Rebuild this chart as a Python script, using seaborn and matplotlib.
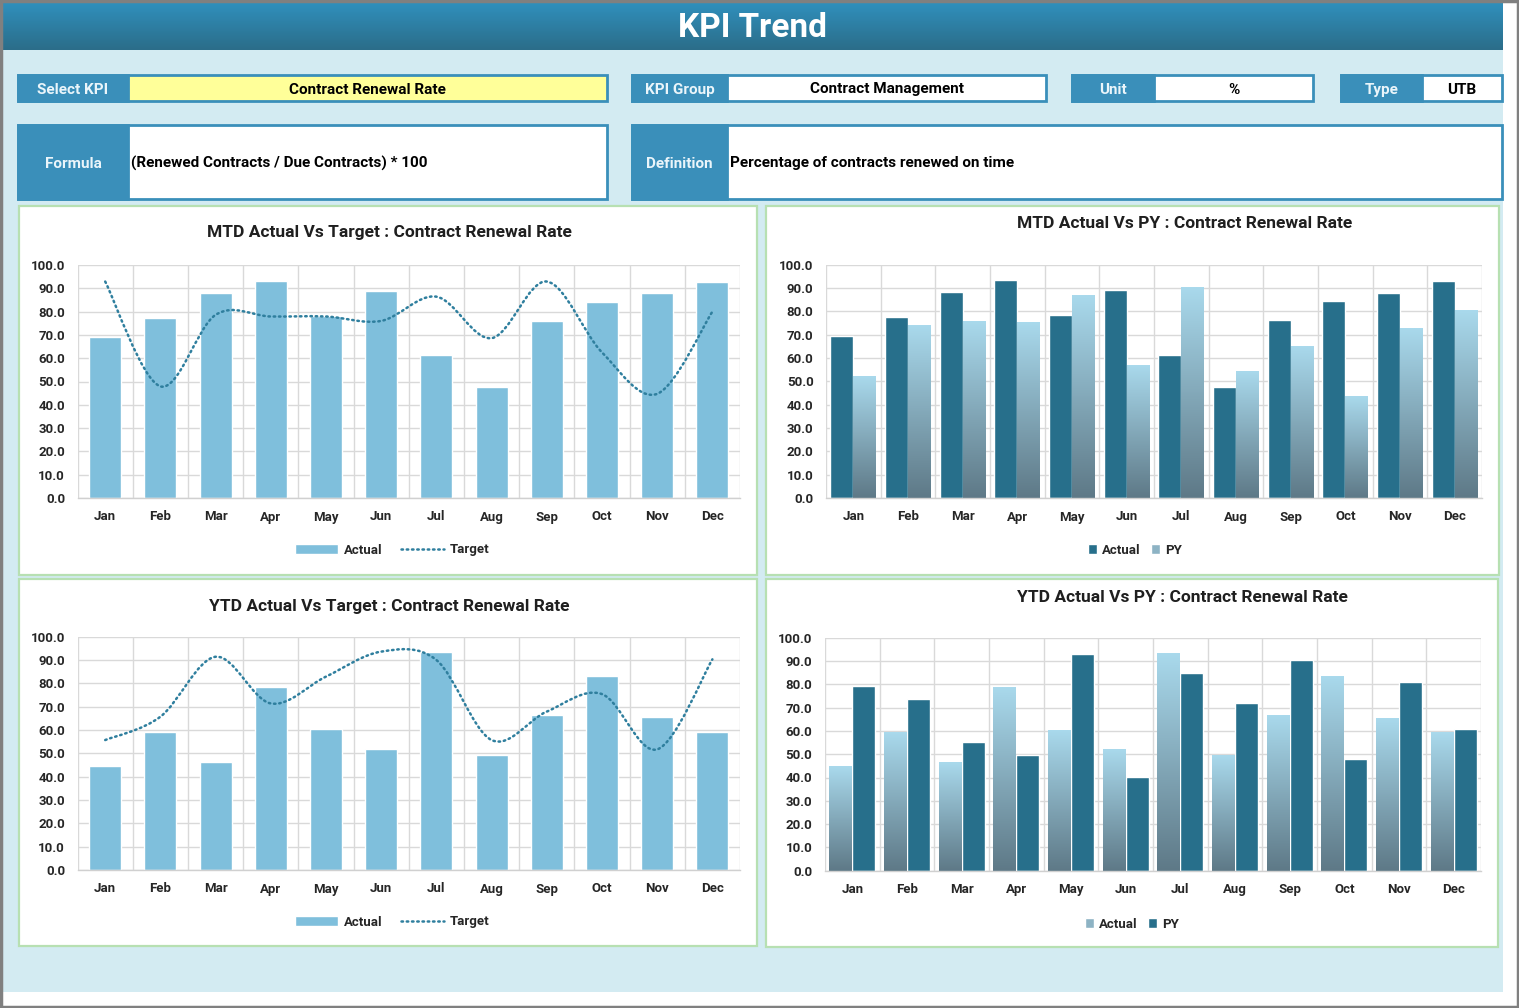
import numpy as np
import pandas as pd
import matplotlib
matplotlib.use("Agg")
import matplotlib.pyplot as plt
import seaborn as sns
from matplotlib.patches import Rectangle, PathPatch, Patch
from matplotlib.lines import Line2D
from matplotlib.path import Path
from matplotlib.colors import LinearSegmentedColormap

# ---------------- data ----------------
months = ['Jan', 'Feb', 'Mar', 'Apr', 'May', 'Jun', 'Jul', 'Aug', 'Sep', 'Oct', 'Nov', 'Dec']
mtd_actual = [69.3, 77.4, 88.1, 93.3, 78.3, 89.0, 61.4, 47.6, 76.1, 84.3, 87.9, 92.9]
mtd_target = [92.9, 47.9, 78.6, 77.9, 77.9, 76.0, 86.4, 68.6, 92.9, 62.5, 44.7, 80.0]
mtd_py = [52.1, 74.0, 75.4, 75.0, 86.9, 56.9, 90.3, 54.1, 64.7, 43.6, 72.7, 80.1]
ytd_actual = [44.7, 59.3, 46.4, 78.6, 60.3, 52.0, 93.3, 49.4, 66.6, 83.3, 65.4, 59.3]
ytd_target = [55.7, 65.7, 91.4, 71.4, 82.9, 93.6, 90.0, 55.7, 67.9, 75.4, 51.7, 90.3]
ytd_py = [79.1, 73.5, 55.4, 49.5, 92.8, 40.1, 84.7, 71.8, 90.3, 47.8, 80.8, 60.7]

kpi_name = "Contract Renewal Rate"
kpi_group = "Contract Management"
kpi_unit = "%"
kpi_type = "UTB"
kpi_formula = "(Renewed Contracts / Due Contracts) * 100"
kpi_definition = "Percentage of contracts renewed on time"

# ---------------- style ----------------
sns.set_theme(style="white")
plt.rcParams['font.family'] = ['Roboto', 'DejaVu Sans']
plt.rcParams['font.weight'] = 'bold'

W, H = 1519, 1008
fig = plt.figure(figsize=(W / 100, H / 100), dpi=100)
fig.patch.set_facecolor('white')

LABEL_BLUE = '#3a8fba'
BG_BLUE = '#d3ebf2'
PANEL_EDGE = '#b7e0b2'
LIGHT_BAR = '#7fbfdc'
DARK_BAR = '#276f8b'
LINE_COL = '#2f7f9e'
GRAD_TOP = '#a9d9ec'
GRAD_BOT = '#5e7987'
TXT = '#1f1f1f'


def frect(x0, y0, x1, y1, **kw):
    r = Rectangle((x0 / W, 1 - y1 / H), (x1 - x0) / W, (y1 - y0) / H,
                  transform=fig.transFigure, **kw)
    fig.patches.append(r)
    return r


def ftext(x, y, s, **kw):
    fig.text(x / W, 1 - y / H, s, **kw)


def fax(x0, y0, x1, y1):
    ax = fig.add_axes([x0 / W, 1 - y1 / H, (x1 - x0) / W, (y1 - y0) / H])
    ax.set_zorder(4)
    return ax


# outer frame and background
frect(2, 50, 1503, 992, facecolor=BG_BLUE, edgecolor='none', zorder=0)
frect(0.5, 0.5, W - 1, H - 1, facecolor='none', edgecolor='#808080', lw=2.5, zorder=10)

# title bar with gradient
tax = fax(2, 2, 1503, 50)
grad = np.linspace(0, 1, 64).reshape(-1, 1)
tcmap = LinearSegmentedColormap.from_list('t', ['#3090bd', '#2b6d89'])
tax.imshow(grad, aspect='auto', cmap=tcmap, extent=[0, 1, 0, 1], origin='upper')
tax.set_axis_off()
ftext(752, 28, "KPI Trend", color='white', fontsize=24, fontweight='bold',
      ha='center', va='center', zorder=6)


# info boxes
def info_box(x0, x1, xl, y0, y1, label, value, vfc='white', align='center', vsize=11):
    frect(x0, y0, x1, y1, facecolor=vfc, edgecolor=LABEL_BLUE, lw=2, zorder=1)
    frect(x0, y0, xl, y1, facecolor=LABEL_BLUE, edgecolor=LABEL_BLUE, lw=2, zorder=2)
    ftext((x0 + xl) / 2, (y0 + y1) / 2 + 2, label, color='#eaf5fa', fontsize=11,
          fontweight='bold', ha='center', va='center', zorder=3)
    if align == 'center':
        ftext((xl + x1) / 2, (y0 + y1) / 2 + 1.5, value, color='black', fontsize=vsize,
              fontweight='bold', ha='center', va='center', zorder=3)
    else:
        ftext(xl + 3, (y0 + y1) / 2 + 1.5, value, color='black', fontsize=vsize,
              fontweight='bold', ha='left', va='center', zorder=3)


info_box(18, 607, 128, 75, 101, "Select KPI", kpi_name, vfc='#ffff99')
info_box(632, 1046, 727, 75, 101, "KPI Group", kpi_group)
info_box(1072, 1313, 1154, 75, 101, "Unit", kpi_unit)
info_box(1341, 1502, 1422, 75, 101, "Type", kpi_type)
info_box(18, 607, 128, 125, 199, "Formula", kpi_formula, align='left')
info_box(632, 1502, 727, 125, 199, "Definition", kpi_definition, align='left')

# chart panels
panels = [(19, 206, 757, 575), (766, 206, 1499, 575), (19, 579, 757, 946), (766, 579, 1498, 947)]
for (x0, y0, x1, y1) in panels:
    frect(x0, y0, x1, y1, facecolor='white', edgecolor=PANEL_EDGE, lw=1.6, zorder=1)


def style_axis(ax):
    ax.set_xlim(-0.5, 11.5)
    ax.set_ylim(0, 100)
    ax.set_yticks(np.arange(0, 101, 10))
    ax.set_yticklabels([f"{v:.1f}" for v in np.arange(0, 101, 10)])
    ax.set_xticks(range(12))
    ax.set_xticklabels(months)
    ax.set_xticks(np.arange(-0.5, 12, 1), minor=True)
    ax.grid(False)
    ax.grid(axis='y', which='major', color='#d9d9d9', lw=1)
    ax.grid(axis='x', which='minor', color='#d9d9d9', lw=1)
    ax.set_axisbelow(True)
    for s in ['top', 'left', 'right']:
        ax.spines[s].set_visible(False)
    ax.spines['bottom'].set_color('#d0d0d0')
    ax.spines['bottom'].set_linewidth(1)
    ax.tick_params(axis='y', which='major', length=0, pad=9, labelsize=9.5, labelcolor='#262626')
    ax.tick_params(axis='x', which='major', length=0, pad=9, labelsize=9.5, labelcolor='#262626')
    ax.tick_params(axis='x', which='minor', length=4, width=1, color='#d9d9d9', direction='out')
    for lab in ax.get_xticklabels() + ax.get_yticklabels():
        lab.set_fontweight('bold')
    ax.set_xlabel('')
    ax.set_ylabel('')
    ax.patch.set_alpha(0)


def smooth_path(xs, ys):
    pts = np.column_stack([xs, ys]).astype(float)
    n = len(pts)
    verts = [pts[0]]
    codes = [Path.MOVETO]
    for i in range(n - 1):
        p0 = pts[i - 1] if i > 0 else pts[i]
        p1 = pts[i]
        p2 = pts[i + 1]
        p3 = pts[i + 2] if i + 2 < n else pts[i + 1]
        c1 = p1 + (p2 - p0) / 6.0
        c2 = p2 - (p3 - p1) / 6.0
        verts += [c1, c2, p2]
        codes += [Path.CURVE4] * 3
    return Path(verts, codes)


def gradient_bars(ax, container):
    cmap = LinearSegmentedColormap.from_list('g', [GRAD_TOP, GRAD_BOT])
    g = np.linspace(0, 1, 128).reshape(-1, 1)
    for bar in container:
        x, w, h = bar.get_x(), bar.get_width(), bar.get_height()
        bar.set_facecolor('none')
        bar.set_edgecolor('none')
        ax.imshow(g, aspect='auto', cmap=cmap, extent=[x, x + w, 0, h],
                  origin='upper', zorder=2, interpolation='bilinear')


def legend(handles, labels, cx, cy, hl, hh, cs):
    lg = fig.legend(handles, labels, loc='center', bbox_to_anchor=(cx / W, 1 - cy / H),
                    ncol=2, frameon=False, prop={'size': 9.5, 'weight': 'bold'},
                    handlelength=hl, handleheight=hh, columnspacing=cs, handletextpad=0.4,
                    labelcolor='#262626')
    lg.set_zorder(6)


DOT = (0, (0.6, 1.5))

# ---- Chart 1: MTD Actual vs Target ----
ax1 = fax(77.6, 265, 740, 498)
df1 = pd.DataFrame({'Month': months, 'Actual': mtd_actual, 'Target': mtd_target})
sns.barplot(data=df1, x='Month', y='Actual', color=LIGHT_BAR, saturation=1, width=0.58, ax=ax1, zorder=2)
ax1.add_patch(PathPatch(smooth_path(range(12), df1['Target']), facecolor='none', edgecolor=LINE_COL,
                        lw=1.8, linestyle=DOT, capstyle='round', zorder=3))
style_axis(ax1)
ftext(389, 232, "MTD Actual Vs Target : Contract Renewal Rate", fontsize=12.5, fontweight='bold',
      color=TXT, ha='center', va='center', zorder=6)
legend([Patch(facecolor=LIGHT_BAR), Line2D([], [], color=LINE_COL, lw=1.8, linestyle=DOT,
                                            dash_capstyle='round')],
       ['Actual', 'Target'], 392, 550, 3.3, 0.8, 1.4)

# ---- Chart 2: MTD Actual vs PY ----
ax2 = fax(826, 264.5, 1482, 498)
df2 = pd.DataFrame({'Month': months * 2, 'Value': mtd_actual + mtd_py,
                    'Series': ['Actual'] * 12 + ['PY'] * 12})
sns.barplot(data=df2, x='Month', y='Value', hue='Series', palette=[DARK_BAR, GRAD_TOP],
            saturation=1, width=0.84, gap=0, ax=ax2, legend=False, zorder=2)
gradient_bars(ax2, ax2.containers[1])
style_axis(ax2)
ftext(1185, 223, "MTD Actual Vs PY : Contract Renewal Rate", fontsize=12.5, fontweight='bold',
      color=TXT, ha='center', va='center', zorder=6)
legend([Patch(facecolor=DARK_BAR), Patch(facecolor='#8db3c4')], ['Actual', 'PY'],
       1135, 550, 0.7, 0.7, 0.8)

# ---- Chart 3: YTD Actual vs Target ----
ax3 = fax(77.6, 636.7, 740, 870)
df3 = pd.DataFrame({'Month': months, 'Actual': ytd_actual, 'Target': ytd_target})
sns.barplot(data=df3, x='Month', y='Actual', color=LIGHT_BAR, saturation=1, width=0.58, ax=ax3, zorder=2)
ax3.add_patch(PathPatch(smooth_path(range(12), df3['Target']), facecolor='none', edgecolor=LINE_COL,
                        lw=1.8, linestyle=DOT, capstyle='round', zorder=3))
style_axis(ax3)
ftext(389, 606, "YTD Actual Vs Target : Contract Renewal Rate", fontsize=12.5, fontweight='bold',
      color=TXT, ha='center', va='center', zorder=6)
legend([Patch(facecolor=LIGHT_BAR), Line2D([], [], color=LINE_COL, lw=1.8, linestyle=DOT,
                                            dash_capstyle='round')],
       ['Actual', 'Target'], 392, 922, 3.3, 0.8, 1.4)

# ---- Chart 4: YTD Actual vs PY ----
ax4 = fax(825, 637.7, 1481, 870.7)
df4 = pd.DataFrame({'Month': months * 2, 'Value': ytd_actual + ytd_py,
                    'Series': ['Actual'] * 12 + ['PY'] * 12})
sns.barplot(data=df4, x='Month', y='Value', hue='Series', palette=[GRAD_TOP, DARK_BAR],
            saturation=1, width=0.84, gap=0, ax=ax4, legend=False, zorder=2)
gradient_bars(ax4, ax4.containers[0])
style_axis(ax4)
ftext(1182, 597, "YTD Actual Vs PY : Contract Renewal Rate", fontsize=12.5, fontweight='bold',
      color=TXT, ha='center', va='center', zorder=6)
legend([Patch(facecolor='#8db3c4'), Patch(facecolor=DARK_BAR)], ['Actual', 'PY'],
       1132, 924, 0.7, 0.7, 0.8)

fig.savefig('out.png', dpi=100, facecolor=fig.get_facecolor())
